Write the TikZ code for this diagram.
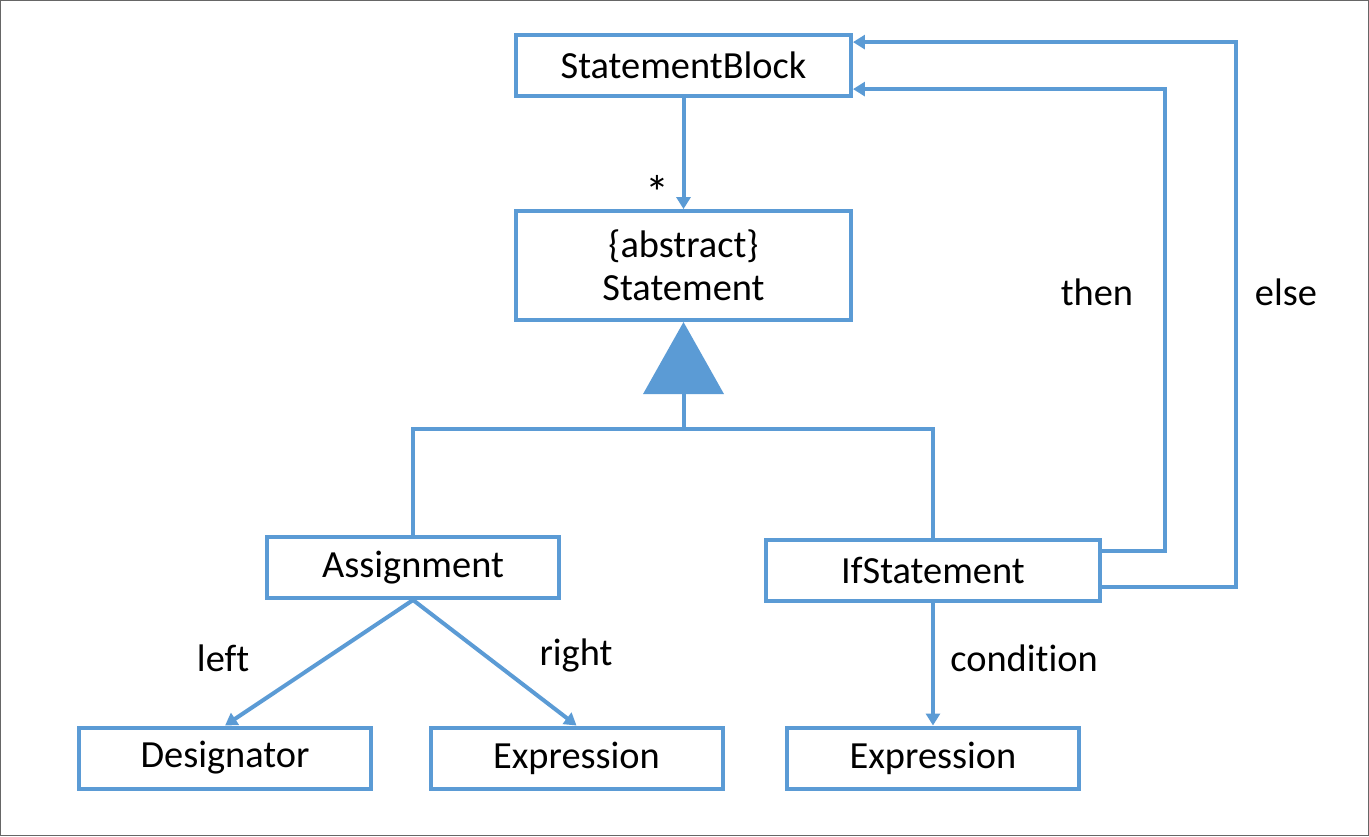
\documentclass[tikz,border=0pt]{standalone}
\usepackage{fontspec}
\setmainfont{Carlito}[Ligatures=NoCommon]
\usetikzlibrary{arrows.meta}
\definecolor{lblue}{HTML}{5B9BD5}
\begin{document}
\begin{tikzpicture}[x=0.5pt,y=-0.5pt,
  cls/.style={draw=lblue,line width=2pt,fill=white,minimum width=146pt,minimum height=30.5pt,inner sep=0pt,font=\fontsize{19.2}{22.5}\selectfont,align=center},
  conn/.style={draw=lblue,line width=2pt},
  arr/.style={conn,-{Triangle[length=6pt,width=7pt]}},
  lbl/.style={font=\fontsize{19.2}{22.5}\selectfont,inner sep=0pt}]
\draw[draw=black!60,line width=0.6pt,fill=white] (0.5,0.5) rectangle (1368.5,835.5);
\useasboundingbox (0,0) rectangle (1369,836);
\node[cls,minimum width=167.5pt] (sb) at (683.5,65) {StatementBlock};
\node[cls,minimum width=167.5pt,minimum height=54.5pt] (st) at (683.5,265.5) {\{abstract\}\\[-1pt]Statement};
\node[cls] (as) at (413,567.5) {Assignment};
\node[cls,minimum width=167pt] (if) at (933,570.5) {IfStatement};
\node[cls] (de) at (225,758) {Designator};
\node[cls] (e1) at (576.5,758) {Expression};
\node[cls] (e2) at (933,758) {Expression};
% composition
\draw[arr] (sb.south) -- (st.north);
\node[lbl,font=\fontsize{24}{26}\selectfont] (star) at (657,192) {*};
% inheritance
\coordinate (tri) at (683.5,394);
\coordinate (jn) at (683.5,429);
\fill[lblue] (st.south) -- (643,394) -- (724,394) -- cycle;
\draw[conn] (tri) -- (jn);
\draw[conn] (as.north) |- (jn);
\draw[conn] (if.north) |- (jn);
% assignment
\draw[arr] (as.south) -- (de.north);
\draw[arr] (as.south) -- (e1.north);
\node[lbl] (left) at (223,658) {left};
\node[lbl] (right) at (576,655) {right};
% if
\draw[arr] (if.south) -- (e2.north);
\node[lbl,anchor=west] (cond) at (950,658) {condition};
\coordinate (t1) at (1165,551);
\coordinate (t2) at (1165,89);
\coordinate (e1c) at (1236,587);
\coordinate (e2c) at (1236,42);
\draw[arr] (if.east |- t1) -- (t1) -- (t2) -- (sb.east |- t2);
\draw[arr] (if.east |- e1c) -- (e1c) -- (e2c) -- (sb.east |- e2c);
\node[lbl] (then) at (1097,292) {then};
\node[lbl] (else) at (1286,292) {else};
\end{tikzpicture}
\end{document}
